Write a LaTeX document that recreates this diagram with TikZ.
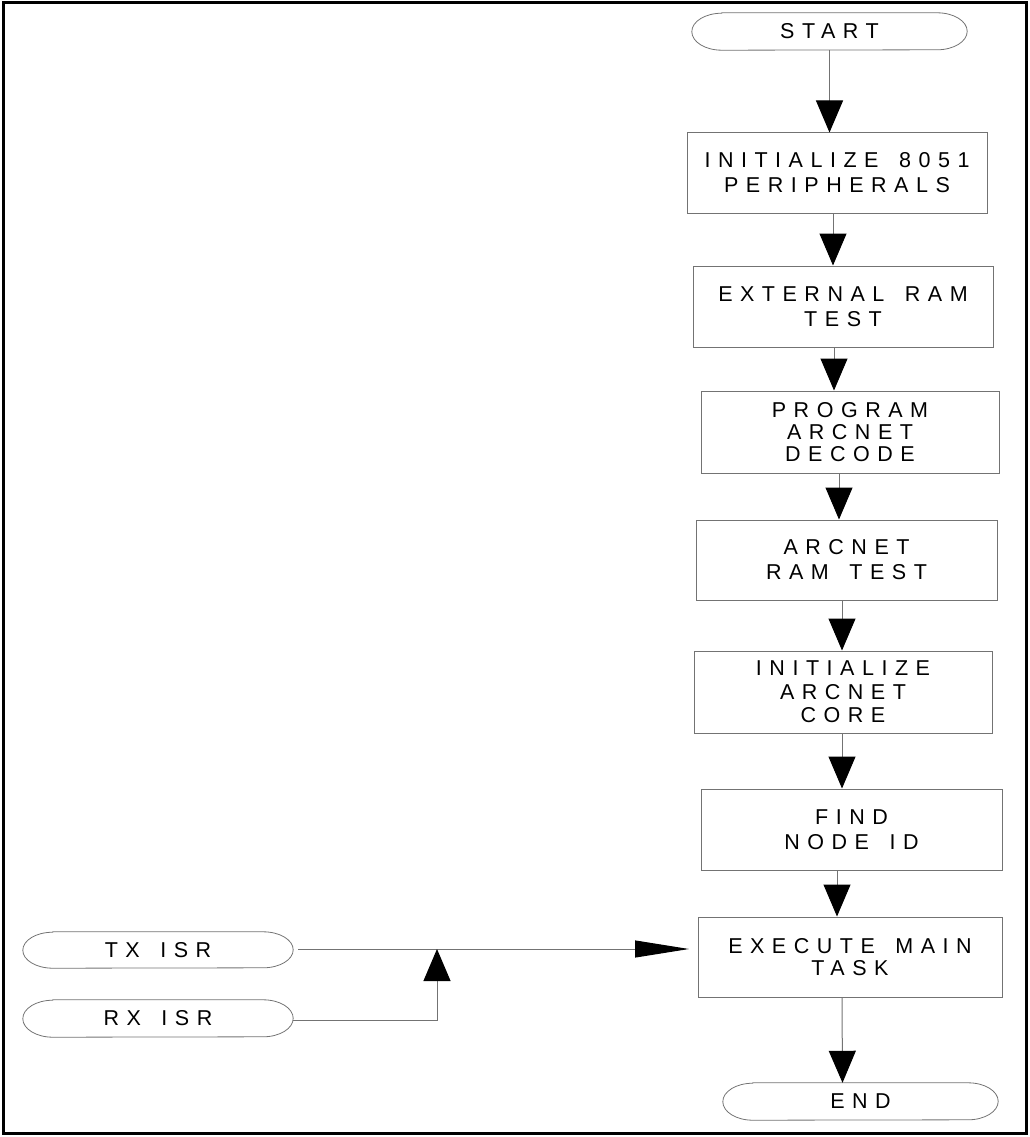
\documentclass[tikz,border=0pt]{standalone}
\usepackage{fontspec}
\newfontfamily\lblfont{Liberation Sans}[LetterSpace=35]
\usetikzlibrary{arrows.meta}
\definecolor{linegray}{gray}{0.45}
\newcommand{\ws}{\ \hspace{7pt}}
\begin{document}
\begin{tikzpicture}[x=1pt,y=-1pt,
  every node/.style={font=\lblfont\fontsize{21.5}{25}\selectfont, text=black, inner sep=0pt, align=center},
  procbox/.style={draw=linegray, line width=1pt, rectangle},
  termnode/.style={draw=none},
  termline/.style={draw=linegray, line width=0.8pt},
  conn/.style={draw=linegray, line width=1pt, -{Triangle[length=32pt,width=27pt,color=black,fill=black]}},
  hconn/.style={draw=linegray, line width=1pt, -{Triangle[length=54pt,width=17pt,color=black,fill=black]}},
  frame/.style={draw=black, line width=3pt}
]
\useasboundingbox (0,0) rectangle (1029,1137);
\draw[frame] (3,3) rectangle (1026,1133);

% terminals
\node[termnode, minimum width=275pt, minimum height=37pt] (start) at (829.5,31.5) {START};
\node[termnode, minimum width=275pt, minimum height=37pt] (end) at (860.5,1101.5) {END};
\node[termnode, minimum width=270pt, minimum height=36pt] (tx) at (158,950) {TX\ws ISR};
\node[termnode, minimum width=270pt, minimum height=37pt] (rx) at (158,1018.5) {RX\ws ISR};

\draw[termline] ([xshift=30pt]start.north west) -- ([xshift=-30pt]start.north east)
  arc[start angle=90, end angle=-90, x radius=30pt, y radius=18.5pt]
  -- ([xshift=30pt]start.south west)
  arc[start angle=270, end angle=90, x radius=30pt, y radius=18.5pt] -- cycle;
\draw[termline] ([xshift=30pt]end.north west) -- ([xshift=-30pt]end.north east)
  arc[start angle=90, end angle=-90, x radius=30pt, y radius=18.5pt]
  -- ([xshift=30pt]end.south west)
  arc[start angle=270, end angle=90, x radius=30pt, y radius=18.5pt] -- cycle;
\draw[termline] ([xshift=30pt]tx.north west) -- ([xshift=-30pt]tx.north east)
  arc[start angle=90, end angle=-90, x radius=30pt, y radius=18pt]
  -- ([xshift=30pt]tx.south west)
  arc[start angle=270, end angle=90, x radius=30pt, y radius=18pt] -- cycle;
\draw[termline] ([xshift=30pt]rx.north west) -- ([xshift=-30pt]rx.north east)
  arc[start angle=90, end angle=-90, x radius=30pt, y radius=18.5pt]
  -- ([xshift=30pt]rx.south west)
  arc[start angle=270, end angle=90, x radius=30pt, y radius=18.5pt] -- cycle;

% process boxes
\node[procbox, minimum width=300pt, minimum height=80pt] (b1) at (837,173) {INITIALIZE\ws 8051\\PERIPHERALS};
\node[procbox, minimum width=300pt, minimum height=81pt] (b2) at (843,306.5) {EXTERNAL\ws RAM\\TEST};
\node[procbox, minimum width=298pt, minimum height=82pt, font=\lblfont\fontsize{21.5}{22}\selectfont] (b3) at (850,432) {PROGRAM\\ARCNET\\DECODE};
\node[procbox, minimum width=301pt, minimum height=80pt] (b4) at (846.5,560) {ARCNET\\RAM\ws TEST};
\node[procbox, minimum width=298pt, minimum height=82pt, font=\lblfont\fontsize{21.5}{23.5}\selectfont] (b5) at (843,692) {INITIALIZE\\ARCNET\\CORE};
\node[procbox, minimum width=301pt, minimum height=81pt] (b6) at (851.5,829.5) {FIND\\NODE\ws ID};
\node[procbox, minimum width=304pt, minimum height=80pt, font=\lblfont\fontsize{21.5}{22.5}\selectfont] (b7) at (850,957) {EXECUTE\ws MAIN\\TASK};

% connectors
\draw[conn] (start.south) -- (start.south |- b1.north);
\draw[conn] ([xshift=-4pt]b1.south) -- ([xshift=-4pt]b1.south |- b2.north);
\draw[conn] ([xshift=-9pt]b2.south) -- ([xshift=-9pt]b2.south |- b3.north);
\draw[conn] ([xshift=-11pt]b3.south) -- ([xshift=-11pt]b3.south |- b4.north);
\draw[conn] ([xshift=-4.5pt]b4.south) -- ([xshift=-4.5pt]b4.south |- b5.north);
\draw[conn] ([xshift=-1pt]b5.south) -- ([xshift=-1pt]b5.south |- b6.north);
\draw[conn] ([xshift=-14.5pt]b6.south) -- ([xshift=-14.5pt]b6.south |- b7.north);
\draw[conn] ([xshift=-8pt]b7.south) -- ([xshift=-18pt]end.north);

\coordinate (tip) at (689,949);
\coordinate (join) at (437,949);
\draw[hconn, shorten <=5pt] (tx.east |- tip) -- (tip);
\draw[conn] (rx.east |- 0,1020) -| (join);
\end{tikzpicture}
\end{document}
